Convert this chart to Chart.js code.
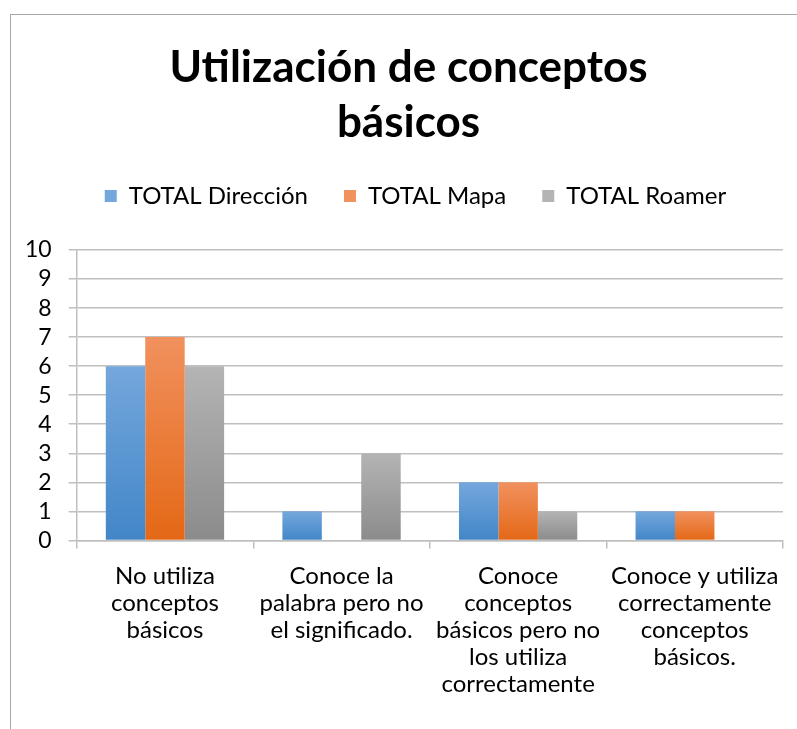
<!DOCTYPE html>
<html>
<head>
<meta charset="utf-8">
<script src="https://cdn.jsdelivr.net/npm/chart.js@4/dist/chart.umd.min.js"></script>
<style>
  html, body { margin: 0; padding: 0; background: #fff; overflow: hidden; }
  #marco { position: absolute; left: 10px; top: 14px; width: 900px; height: 900px; border: 1px solid #a6a6a6; }
  #grafico { position: absolute; left: 0; top: 0; }
</style>
</head>
<body>
<div id="marco"></div>
<canvas id="grafico" width="797" height="729"></canvas>
<script>
const titulo = ['Utilización de conceptos', 'básicos'];
const categorias = [
  ['No utiliza', 'conceptos', 'básicos'],
  ['Conoce la', 'palabra pero no', 'el significado.'],
  ['Conoce', 'conceptos', 'básicos pero no', 'los utiliza', 'correctamente'],
  ['Conoce y utiliza', 'correctamente', 'conceptos', 'básicos.']
];
const series = ['TOTAL Dirección', 'TOTAL Mapa', 'TOTAL Roamer'];
const totalDireccion = [6, 1, 2, 1];
const totalMapa = [7, 0, 2, 1];
const totalRoamer = [6, 3, 1, 0];
const ticksY = [0, 10, 1];

// colores claro (arriba) y oscuro (abajo) de cada serie
const colores = [
  ['#74a7dc', '#4286c8'],
  ['#f1915e', '#e46816'],
  ['#b4b4b4', '#8b8b8b']
];

const fuente = "'Lato', 'Open Sans', sans-serif";

function degradado(indice) {
  return function (ctx) {
    const chart = ctx.chart;
    const y = chart.scales.y;
    if (!y || ctx.raw === undefined) return colores[indice][1];
    const arriba = y.getPixelForValue(ctx.raw);
    const abajo = y.getPixelForValue(0);
    if (abajo - arriba < 1) return colores[indice][1];
    const g = chart.ctx.createLinearGradient(0, arriba, 0, abajo);
    g.addColorStop(0, colores[indice][0]);
    g.addColorStop(1, colores[indice][1]);
    return g;
  };
}

// más aire bajo la leyenda, y título y leyenda centrados en el marco
const ajusteCabecera = {
  id: 'ajusteCabecera',
  beforeInit: function (chart) {
    const fitOriginal = chart.legend.fit;
    chart.legend.fit = function () {
      fitOriginal.bind(chart.legend)();
      this.height += 32;
    };
  },
  afterLayout: function (chart) {
    chart.titleBlock.left += 13;
    chart.titleBlock.right += 13;
    chart.legend.left += 20;
    chart.legend.right += 20;
  }
};

const valores = [totalDireccion, totalMapa, totalRoamer];

let context = document.getElementById('grafico').getContext('2d');
let grafico = new Chart(context, {
  type: 'bar',
  data: {
    labels: categorias,
    datasets: series.map(function (nombre, i) {
      return {
        label: nombre,
        data: valores[i],
        backgroundColor: degradado(i),
        borderWidth: 0,
        barPercentage: 1,
        categoryPercentage: 0.67
      };
    })
  },
  plugins: [ajusteCabecera],
  options: {
    responsive: false,
    animation: false,
    layout: { padding: { left: 8, right: 14, top: 0, bottom: 17 } },
    plugins: {
      tooltip: { enabled: false },
      title: {
        display: true,
        text: titulo,
        color: '#000',
        font: { family: fuente, size: 44, weight: 'bold', lineHeight: 1.25 },
        padding: { top: 40, bottom: -2 }
      },
      legend: {
        display: true,
        labels: {
          color: '#000',
          font: { family: fuente, size: 24 },
          boxWidth: 12,
          boxHeight: 12,
          padding: 36,
          generateLabels: function (chart) {
            return series.map(function (nombre, i) {
              return {
                text: nombre,
                fillStyle: colores[i][0],
                strokeStyle: colores[i][0],
                lineWidth: 0,
                datasetIndex: i
              };
            });
          }
        }
      }
    },
    scales: {
      x: {
        grid: {
          display: true,
          drawOnChartArea: false,
          drawTicks: true,
          tickLength: 8,
          color: '#bfbfbf',
          lineWidth: 1.5,
          offset: true
        },
        border: { display: true, color: '#bfbfbf', width: 1.5 },
        ticks: {
          color: '#000',
          font: { family: fuente, size: 24, lineHeight: 1.13 },
          maxRotation: 0,
          autoSkip: false,
          padding: 14
        }
      },
      y: {
        min: ticksY[0],
        max: ticksY[1],
        grid: { color: '#bfbfbf', lineWidth: 1.5, tickLength: 8 },
        border: { display: true, color: '#bfbfbf', width: 1.5 },
        ticks: {
          stepSize: ticksY[2],
          autoSkip: false,
          color: '#000',
          font: { family: fuente, size: 23 },
          padding: 17
        }
      }
    }
  }
});
</script>
</body>
</html>
